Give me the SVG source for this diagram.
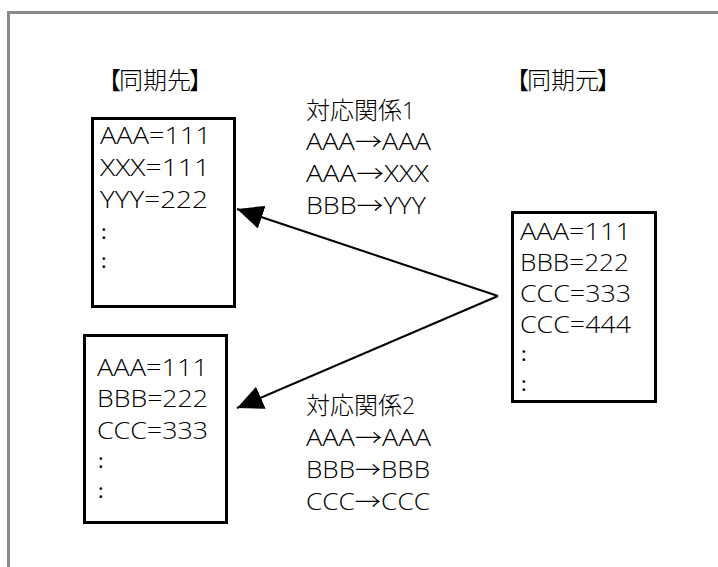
<svg xmlns="http://www.w3.org/2000/svg" width="718" height="567" viewBox="0 0 718 567">
<defs>
<style>
.t{font-family:"Open Sans","Noto Sans CJK JP",sans-serif;font-size:23px;font-weight:300;fill:#000;}
.j{font-family:"Noto Sans CJK JP","Noto Sans",sans-serif;font-size:24px;font-weight:300;fill:#000;}
.d{font-family:"Noto Sans CJK JP",sans-serif;font-size:20px;font-weight:400;fill:#000;}
.box{fill:#fff;stroke:#000;stroke-width:3;}
.conn{stroke:#000;stroke-width:2;fill:none;}
</style>
<marker id="ah" markerUnits="userSpaceOnUse" markerWidth="28" markerHeight="24" refX="26" refY="12" orient="auto">
<path d="M0,0 L26,12 L0,24 Z" fill="#000"/>
</marker>
</defs>
<rect width="718" height="567" fill="#fff"/>
<path d="M8.5,567 V12.5 H718" fill="none" stroke="#8a8a8a" stroke-width="3"/>
<g id="label-dst"><text class="j" y="89"><tspan x="97">【</tspan><tspan x="119">同期先</tspan><tspan x="189">】</tspan></text></g>
<g id="label-src"><text class="j" y="89"><tspan x="505">【</tspan><tspan x="527">同期元</tspan><tspan x="597">】</tspan></text></g>
<g id="dst1">
<rect class="box" x="92.5" y="118.5" width="142" height="188"/>
<text class="t" x="100" y="144" textLength="111" lengthAdjust="spacingAndGlyphs">AAA=111</text>
<text class="t" x="100" y="176" textLength="110" lengthAdjust="spacingAndGlyphs">XXX=111</text>
<text class="t" x="100" y="208" textLength="108" lengthAdjust="spacingAndGlyphs">YYY=222</text>
<text class="d" x="101" y="239">:</text>
<text class="d" x="101" y="268">:</text>
</g>
<g id="dst2">
<rect class="box" x="84.5" y="335.5" width="142" height="187"/>
<text class="t" x="97" y="376" textLength="111" lengthAdjust="spacingAndGlyphs">AAA=111</text>
<text class="t" x="97" y="407" textLength="111" lengthAdjust="spacingAndGlyphs">BBB=222</text>
<text class="t" x="97" y="439" textLength="111" lengthAdjust="spacingAndGlyphs">CCC=333</text>
<text class="d" x="98" y="468">:</text>
<text class="d" x="98" y="498">:</text>
</g>
<g id="src">
<rect class="box" x="512.5" y="212.5" width="143" height="189"/>
<text class="t" x="520" y="240" textLength="111" lengthAdjust="spacingAndGlyphs">AAA=111</text>
<text class="t" x="520" y="271" textLength="109" lengthAdjust="spacingAndGlyphs">BBB=222</text>
<text class="t" x="520" y="302" textLength="111" lengthAdjust="spacingAndGlyphs">CCC=333</text>
<text class="t" x="520" y="333" textLength="111" lengthAdjust="spacingAndGlyphs">CCC=444</text>
<text class="d" x="521" y="361">:</text>
<text class="d" x="521" y="391">:</text>
</g>
<g id="map1">
<text class="j" x="306" y="119">対応関係<tspan class="t">1</tspan></text>
<text class="t" x="306" y="150" textLength="125" lengthAdjust="spacingAndGlyphs">AAA→AAA</text>
<text class="t" x="306" y="182" textLength="123" lengthAdjust="spacingAndGlyphs">AAA→XXX</text>
<text class="t" x="306" y="214" textLength="120" lengthAdjust="spacingAndGlyphs">BBB→YYY</text>
</g>
<g id="map2">
<text class="j" x="306" y="414">対応関係<tspan class="t">2</tspan></text>
<text class="t" x="306" y="446" textLength="125" lengthAdjust="spacingAndGlyphs">AAA→AAA</text>
<text class="t" x="306" y="478" textLength="124" lengthAdjust="spacingAndGlyphs">BBB→BBB</text>
<text class="t" x="306" y="510" textLength="124" lengthAdjust="spacingAndGlyphs">CCC→CCC</text>
</g>
<g id="connectors">
<line class="conn" x1="498" y1="296" x2="237" y2="209" marker-end="url(#ah)"/>
<line class="conn" x1="498" y1="296" x2="237" y2="408" marker-end="url(#ah)"/>
</g>
</svg>
